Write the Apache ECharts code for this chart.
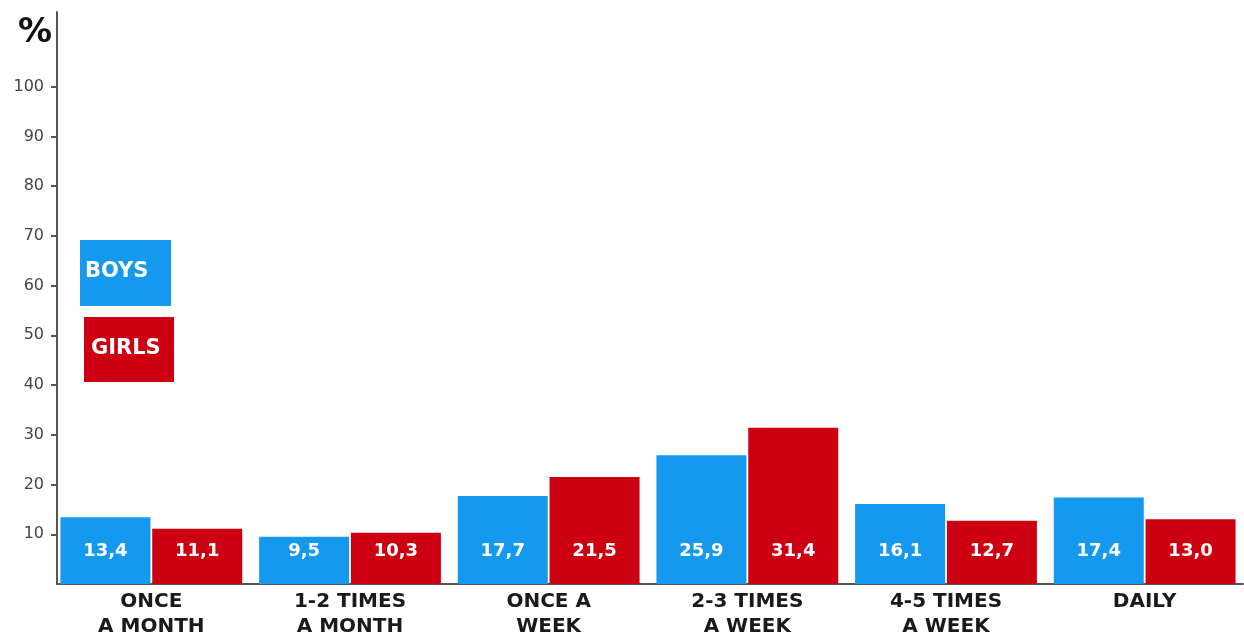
<!DOCTYPE html>
<html><head><meta charset="utf-8">
<script src="https://cdn.jsdelivr.net/npm/echarts@6/dist/echarts.min.js"></script>
<style>html,body{margin:0;padding:0;background:#fff}#c{width:1244px;height:639px}</style>
</head><body><div id="c"></div>
<script>
const categories = ['ONCE\nA MONTH','1-2 TIMES\nA MONTH','ONCE A\nWEEK','2-3 TIMES\nA WEEK','4-5 TIMES\nA WEEK','DAILY'];
const boys = [13.4, 9.5, 17.7, 25.9, 16.1, 17.4];
const girls = [11.1, 10.3, 21.5, 31.4, 12.7, 13.0];
const seriesNames = ['BOYS','GIRLS'];
const yTicks = [10,20,30,40,50,60,70,80,90,100];
const BLUE = '#1499ee', RED = '#cc0011';
const F = '"DejaVu Sans", sans-serif';
const chart = echarts.init(document.getElementById('c'));
const lbl = {show:true, position:'insideBottom', distance:24, color:'#fff', fontFamily:F, fontWeight:'bold', fontSize:18,
  formatter: p => p.value.toFixed(1).replace('.', ',')};
chart.setOption({
  animation:false,
  title:{text:'%', left:13, top:11, textStyle:{fontFamily:F, fontWeight:'bold', fontSize:34, color:'#111'}},
  grid:[{left:57, right:1, top:12, bottom:55},{left:52, width:1200, top:12, bottom:55}],
  xAxis:[
    {gridIndex:0, type:'category', data:categories, axisLine:{lineStyle:{color:'#555', width:2}}, axisTick:{show:false}, axisLabel:{show:false}},
    {gridIndex:1, type:'category', data:categories, axisLine:{show:false}, axisTick:{show:false},
      axisLabel:{margin:5, fontFamily:F, fontWeight:'bold', fontSize:20, lineHeight:25, color:'#1a1a1a', interval:0}}
  ],
  yAxis:[
    {gridIndex:0, type:'value', min:0, max:115, splitLine:{show:false},
      axisLine:{show:true, lineStyle:{color:'#555', width:2}},
      axisTick:{show:true, length:6, customValues:yTicks, lineStyle:{color:'#555', width:2}},
      axisLabel:{customValues:yTicks, margin:13, fontFamily:F, fontSize:16, color:'#444'}},
    {gridIndex:1, type:'value', min:0, max:115, show:false, splitLine:{show:false}}
  ],
  series:[
    {name:seriesNames[0], type:'bar', xAxisIndex:1, yAxisIndex:1, data:boys, barWidth:90, barGap:'2%', itemStyle:{color:BLUE}, label:lbl},
    {name:seriesNames[1], type:'bar', xAxisIndex:1, yAxisIndex:1, data:girls, barWidth:90, barGap:'2%', itemStyle:{color:RED}, label:lbl}
  ],
  graphic:[
    {type:'group', left:80, top:240, children:[
      {type:'rect', shape:{x:0, y:0, width:91, height:66}, style:{fill:BLUE}},
      {type:'text', x:5, y:32, style:{text:seriesNames[0], fill:'#fff', font:'bold 21px "DejaVu Sans"', verticalAlign:'middle'}}
    ]},
    {type:'group', left:84, top:317, children:[
      {type:'rect', shape:{x:0, y:0, width:90, height:65}, style:{fill:RED}},
      {type:'text', x:7, y:32, style:{text:seriesNames[1], fill:'#fff', font:'bold 21px "DejaVu Sans"', verticalAlign:'middle'}}
    ]}
  ]
});
</script></body></html>
